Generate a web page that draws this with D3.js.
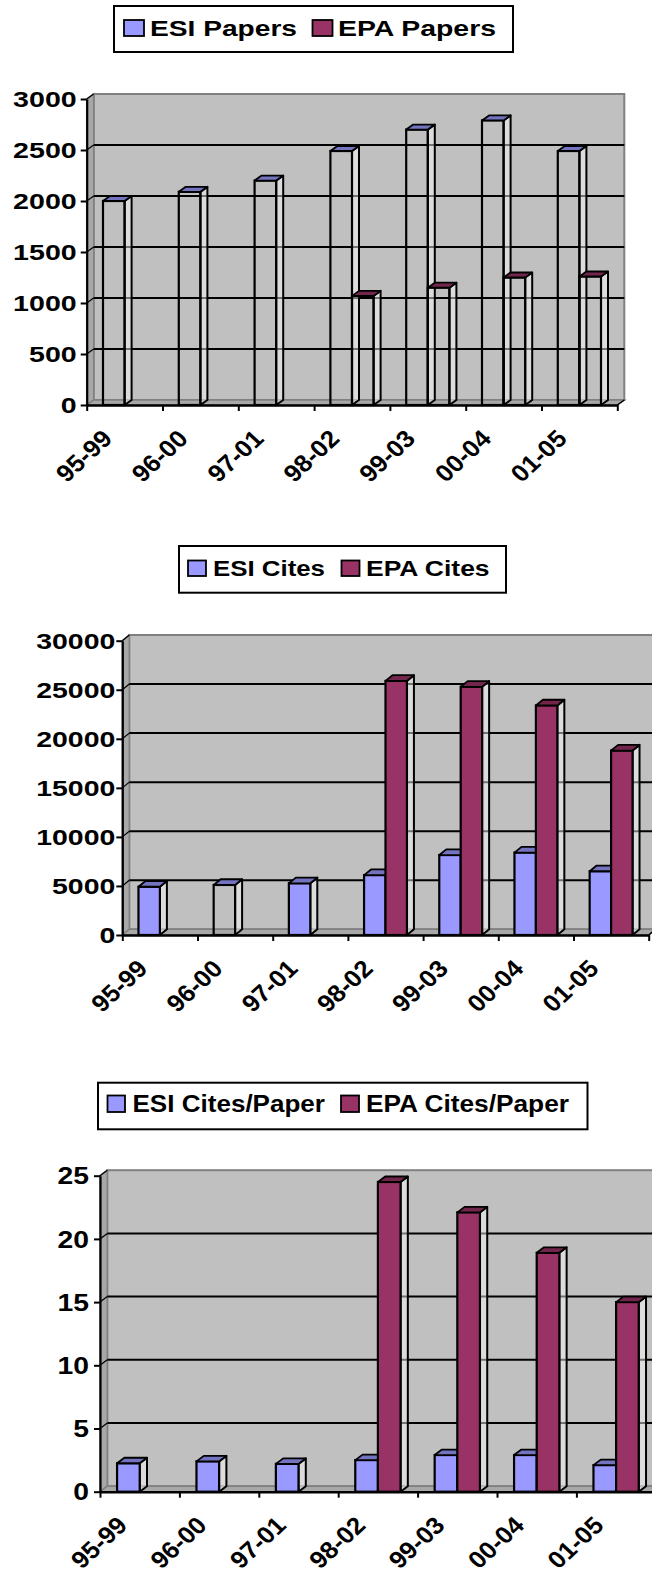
<!DOCTYPE html>
<head>
<meta charset="utf-8">
<script src="https://d3js.org/d3.v7.min.js"></script>
<style>
  body { margin: 0; background: #ffffff; }
  text { font-family: "Liberation Sans", Arial, sans-serif; font-weight: bold; fill: #000000; }
</style>
</head>
<body>
<script>
const width = 652, height = 1576;

// categories (rolling 5-year windows)
const periods = ['95-99', '96-00', '97-01', '98-02', '99-03', '00-04', '01-05'];

// series values (null = no bar)
const esiPapers = [2000, 2090, 2200, 2490, 2700, 2790, 2490];
const epaPapers = [null, null, null, 1070, 1150, 1250, 1260];
const esiCites = [4920, 5100, 5270, 6100, 8150, 8400, 6500];
const epaCites = [null, null, null, 25900, 25300, 23400, 18800];
const esiCitesPerPaper = [2.25, 2.4, 2.2, 2.5, 2.9, 2.9, 2.1];
const epaCitesPerPaper = [null, null, null, 24.5, 22.1, 18.9, 15.0];

// tick labels
const papersTicks = [0, 500, 1000, 1500, 2000, 2500, 3000];
const citesTicks = [0, 5000, 10000, 15000, 20000, 25000, 30000];
const ratioTicks = [0, 5, 10, 15, 20, 25];

const colours = { esi: '#9999ff', epa: '#993366' };
const tops = { esi: '#7373bf', epa: '#73264c' };

const svg = d3.select('body').append('svg')
  .attr('width', width)
  .attr('height', height);

const charts = [
  {
    series: [{ key: 'esi', name: 'ESI Papers', values: esiPapers }, { key: 'epa', name: 'EPA Papers', values: epaPapers }],
    ticks: papersTicks, max: 3000,
    left: 86.7, right: 617.3, bottom: 405, top: 99, dx: 7, dy: -5,
    font: 21.5, sx: 1.33, gap: 4,
    hollow: () => true,
    legend: { box: [114, 6, 399, 46], base: 36, font: 21.4,
      items: [{ sw: [124, 20, 20, 16], tx: 150, tw: 147 }, { sw: [312.5, 20, 20, 16], tx: 338, tw: 158 }] }
  },
  {
    series: [{ key: 'esi', name: 'ESI Cites', values: esiCites }, { key: 'epa', name: 'EPA Cites', values: epaCites }],
    ticks: citesTicks, max: 30000,
    left: 122.3, right: 648.7, bottom: 935, top: 640.7, dx: 7, dy: -5.7,
    font: 21.4, sx: 1.33, gap: 1,
    hollow: (key, i) => key == 'esi' && i == 1,
    legend: { box: [179, 546, 327, 46.7], base: 576, font: 21.4,
      items: [{ sw: [188, 560.5, 18, 15.5], tx: 213, tw: 112 }, { sw: [341.5, 560.5, 18, 15.5], tx: 366, tw: 123.6 }] }
  },
  {
    series: [{ key: 'esi', name: 'ESI Cites/Paper', values: esiCitesPerPaper }, { key: 'epa', name: 'EPA Cites/Paper', values: epaCitesPerPaper }],
    ticks: ratioTicks, max: 25,
    left: 100, right: 655.8, bottom: 1491.7, top: 1175.7, dx: 7.3, dy: -5.5,
    font: 23, sx: 1.23, gap: 5,
    hollow: () => false,
    legend: { box: [98, 1082.7, 489.5, 46.6], base: 1112.3, font: 23,
      items: [{ sw: [107.5, 1095.5, 17.5, 16.5], tx: 132.5, tw: 192.5 }, { sw: [341, 1095.5, 18, 16.5], tx: 366, tw: 203 }] }
  }
];

charts.forEach(drawChart);

function drawChart(c) {
  const g = svg.append('g');
  const { dx, dy } = c;

  const x = d3.scaleBand().domain(periods).range([c.left, c.right]);
  const xs = d3.scaleBand().domain(['esi', 'epa'])
    .range([x.bandwidth() * 0.215, x.bandwidth() * 0.785]);
  const xb = d3.scaleLinear().domain([0, periods.length]).range([c.left, c.right]);
  const y = d3.scaleLinear().domain([0, c.max]).range([c.bottom, c.top]);

  const x0 = c.left, x1 = c.right, y0 = y(0), yT = y(c.max);

  // back wall
  g.append('rect')
    .attr('x', x0 + dx).attr('y', yT + dy)
    .attr('width', x1 - x0).attr('height', y0 - yT)
    .attr('fill', '#c0c0c0').attr('stroke', '#808080').attr('stroke-width', 2);

  // side wall + floor
  g.append('path')
    .attr('d', `M${x0},${y0}L${x0},${yT}L${x0 + dx},${yT + dy}L${x0 + dx},${y0 + dy}Z`)
    .attr('fill', '#a8a8a8').attr('stroke', '#808080').attr('stroke-width', 1.5);
  g.append('path')
    .attr('d', `M${x0},${y0}L${x1},${y0}L${x1 + dx},${y0 + dy}L${x0 + dx},${y0 + dy}Z`)
    .attr('fill', '#a8a8a8').attr('stroke', '#808080').attr('stroke-width', 1.5);

  // gridlines on back wall and side wall
  const inner = c.ticks.filter(t => t > 0 && t < c.max);
  g.selectAll('line.grid').data(inner).enter().append('line')
    .attr('class', 'grid')
    .attr('x1', x0 + dx).attr('x2', x1 + dx)
    .attr('y1', d => y(d) + dy).attr('y2', d => y(d) + dy)
    .attr('stroke', '#000').attr('stroke-width', 2);
  g.selectAll('line.sgrid').data(inner.concat([c.max])).enter().append('line')
    .attr('class', 'sgrid')
    .attr('x1', x0).attr('x2', x0 + dx)
    .attr('y1', d => y(d)).attr('y2', d => y(d) + dy)
    .attr('stroke', '#000').attr('stroke-width', 1.2);

  // bars
  c.series.forEach(s => {
    const data = periods.map((p, i) => ({ p, i, v: s.values[i] })).filter(d => d.v != null);
    const bw = xs.bandwidth();
    const bars = g.selectAll(null).data(data).enter().append('g');
    bars.append('path') // side
      .attr('d', d => {
        const bx = x(d.p) + xs(s.key) + bw, by = y(d.v);
        return `M${bx},${by}L${bx + dx},${by + dy}L${bx + dx},${y0 + dy}L${bx},${y0}Z`;
      })
      .attr('fill', '#ffffff').attr('fill-opacity', 0.45)
      .attr('stroke', '#000').attr('stroke-width', 2).attr('stroke-linejoin', 'round');
    bars.append('rect') // front
      .attr('x', d => x(d.p) + xs(s.key))
      .attr('y', d => y(d.v))
      .attr('width', bw)
      .attr('height', d => y0 - y(d.v))
      .attr('fill', d => c.hollow(s.key, d.i) ? 'none' : colours[s.key])
      .attr('stroke', '#000').attr('stroke-width', 2.2);
    bars.append('path') // top
      .attr('d', d => {
        const bx = x(d.p) + xs(s.key), by = y(d.v);
        return `M${bx},${by}L${bx + dx},${by + dy}L${bx + bw + dx},${by + dy}L${bx + bw},${by}Z`;
      })
      .attr('fill', tops[s.key]).attr('stroke', '#000').attr('stroke-width', 1.8).attr('stroke-linejoin', 'round');
  });

  // y axis
  const yAxis = g.append('g')
    .attr('transform', `translate(${x0},0)`)
    .call(d3.axisLeft(y).tickValues(c.ticks).tickSize(6).tickSizeOuter(0).tickFormat(d3.format('d')));
  yAxis.select('.domain').attr('stroke', '#000').attr('stroke-width', 2.2);
  yAxis.selectAll('.tick line').attr('stroke', '#000').attr('stroke-width', 2);
  yAxis.selectAll('.tick text')
    .attr('x', null).attr('dy', '0.36em')
    .attr('transform', `translate(${-6 - c.gap},0) scale(${c.sx},1)`)
    .style('font-size', c.font + 'px')
    .style('font-family', '"Liberation Sans", Arial, sans-serif')
    .style('font-weight', 'bold');

  // x axis (front floor edge) with ticks at category boundaries
  const xAxis = g.append('g')
    .attr('transform', `translate(0,${y0})`)
    .call(d3.axisBottom(xb).tickValues(d3.range(periods.length + 1)).tickSize(6).tickSizeOuter(0).tickFormat(''));
  xAxis.select('.domain').attr('stroke', '#000').attr('stroke-width', 2.5);
  xAxis.selectAll('.tick line').attr('stroke', '#000').attr('stroke-width', 2);
  g.append('line')
    .attr('x1', x1).attr('y1', y0).attr('x2', x1 + dx).attr('y2', y0 + dy)
    .attr('stroke', '#000').attr('stroke-width', 1.5);

  // rotated category labels
  g.selectAll('text.cat').data(periods).enter().append('text')
    .attr('class', 'cat')
    .attr('transform', d => `translate(${x(d) + x.bandwidth() / 2 - 11},${y0 + 35}) scale(1.08,1) rotate(-45)`)
    .style('text-anchor', 'end')
    .style('font-size', '24px')
    .text(d => d);

  // legend
  const L = c.legend;
  g.append('rect')
    .attr('x', L.box[0]).attr('y', L.box[1]).attr('width', L.box[2]).attr('height', L.box[3])
    .attr('fill', '#fff').attr('stroke', '#000').attr('stroke-width', 2);
  L.items.forEach((it, k) => {
    const s = c.series[k];
    g.append('rect')
      .attr('x', it.sw[0]).attr('y', it.sw[1]).attr('width', it.sw[2]).attr('height', it.sw[3])
      .attr('fill', colours[s.key]).attr('stroke', '#000').attr('stroke-width', 1.8);
    g.append('text')
      .attr('x', it.tx).attr('y', L.base)
      .attr('textLength', it.tw).attr('lengthAdjust', 'spacingAndGlyphs')
      .style('font-size', L.font + 'px')
      .text(s.name);
  });
}
</script>
</body>
